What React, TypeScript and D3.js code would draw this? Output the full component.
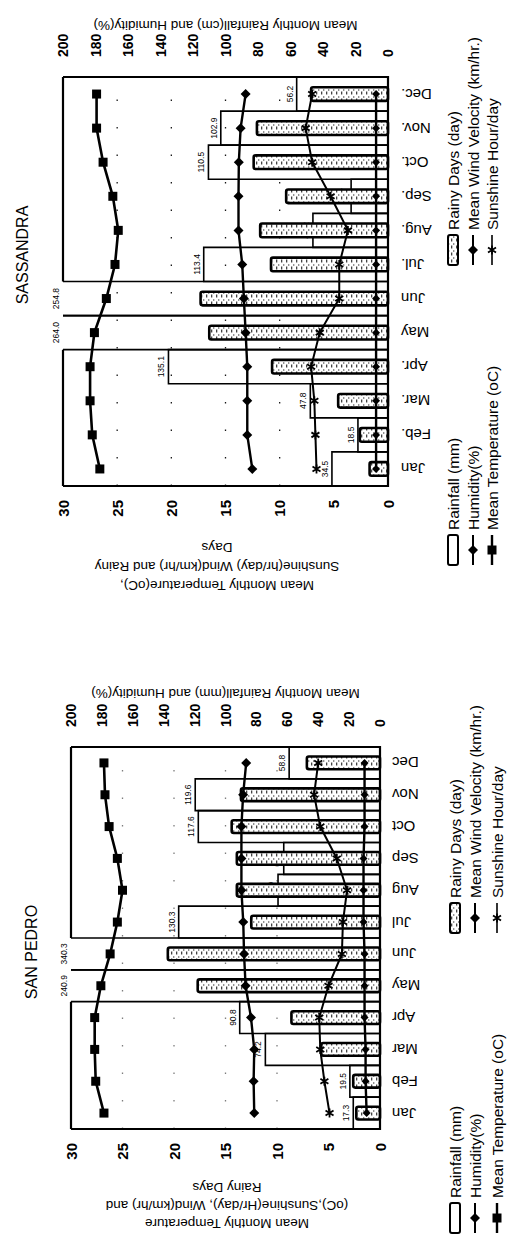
import React from 'react';
import * as d3 from 'd3';

// ---- SASSANDRA ----
const sassMonths = ['Jan', 'Feb.', 'Mar.', 'Apr.', 'May', 'Jun', 'Jul.', 'Aug.', 'Sep.', 'Oct.', 'Nov.', 'Dec.'];
const sassRain = [34.5, 18.5, 47.8, 135.1, 264.0, 254.8, 113.4, 46.2, 22.7, 110.5, 102.9, 56.2];
const sassDays = [1.7, 2.6, 4.6, 10.7, 16.5, 17.3, 10.8, 11.8, 9.4, 12.4, 12.1, 7.1];
const sassTemp = [26.6, 27.3, 27.5, 27.5, 27.1, 26.0, 25.2, 24.9, 25.4, 26.3, 26.9, 26.9];
const sassHum = [83.5, 86.6, 86.6, 86.6, 87.6, 88.7, 89.7, 92.0, 92.0, 91.8, 90.7, 87.6];
const sassWind = [1.1, 1.1, 1.1, 1.1, 1.1, 1.1, 1.1, 1.1, 1.1, 1.1, 1.1, 1.1];
const sassSun = [6.6, 6.7, 6.8, 7.1, 6.3, 4.5, 4.5, 3.7, 5.3, 7.0, 7.6, 7.0];
const sassLeftTitle = ['Mean Monthly Temperature(oC),', 'Sunshine(hr/day) Wind(km/hr) and Rainy', 'Days'];
const sassRightTitle = 'Mean Monthly Rainfall(cm) and Humidity(%)';

// ---- SAN PEDRO ----
const sanMonths = ['Jan', 'Feb', 'Mar', 'Apr', 'May', 'Jun', 'Jul', 'Aug', 'Sep', 'Oct', 'Nov', 'Dec'];
const sanRain = [17.3, 19.5, 74.2, 90.8, 240.9, 340.3, 130.3, 66.0, 62.3, 117.6, 119.6, 58.8];
const sanDays = [2.3, 2.6, 5.7, 8.6, 17.7, 20.6, 12.5, 13.9, 13.9, 14.4, 13.5, 7.1];
const sanTemp = [26.8, 27.6, 27.7, 27.7, 27.1, 26.2, 25.5, 25.0, 25.5, 26.3, 26.7, 26.8];
const sanHum = [81.4, 81.8, 81.4, 83.5, 87.0, 88.0, 88.5, 89.7, 89.7, 89.7, 88.6, 86.6];
const sanWind = [1.3, 1.4, 1.4, 1.5, 1.5, 1.5, 1.6, 1.6, 1.6, 1.5, 1.5, 1.5];
const sanSun = [4.9, 5.4, 5.8, 5.9, 5.0, 3.7, 3.6, 3.2, 4.2, 5.8, 6.4, 6.0];
const sanLeftTitle = ['Mean Monthly Temperature', '(oC),Sunshine(Hr/day), Wind(km/hr) and', 'Rainy Days'];
const sanRightTitle = 'Mean Monthly Rainfall(mm) and Humidity(%)';

const leftTicks = [0, 5, 10, 15, 20, 25, 30];
const rightTicks = [0, 20, 40, 60, 80, 100, 120, 140, 160, 180, 200];
const gridTicks = [10, 15, 20, 25];
const legendCol1 = ['Rainfall (mm)', 'Humidity(%)', 'Mean Temperature (oC)'];
const legendCol2 = ['Rainy Days (day)', 'Mean Wind Velocity (km/hr.)', 'Sunshine Hour/day'];

const FONT = '"Liberation Sans", Arial, Helvetica, sans-serif';

// layout of each chart (image coords of plot box, u = base - y after rotation)
const charts = [
  {
    id: 'sass', title: 'SASSANDRA', titleU: 365, titleV: 28, base: 620,
    box: {x0: 63, x1: 388, y0: 77, y1: 486},
    months: sassMonths, rain: sassRain, days: sassDays, temp: sassTemp, hum: sassHum, wind: sassWind, sun: sassSun,
    leftTitle: sassLeftTitle, leftTitleU: [39, 58, 77], leftTitleV: 217,
    rightTitle: sassRightTitle, rightTitleU: 599, monthV: 401,
    legendU: [55, 355], legendV: [453, 473, 492], gridOpacity: 0.9,
  },
  {
    id: 'san', title: 'SAN PEDRO', titleU: 290, titleV: 37, base: 1242,
    box: {x0: 71, x1: 380, y0: 747, y1: 1129},
    months: sanMonths, rain: sanRain, days: sanDays, temp: sanTemp, hum: sanHum, wind: sanWind, sun: sanSun,
    leftTitle: sanLeftTitle, leftTitleU: [23, 41, 59], leftTitleV: 227,
    rightTitle: sanRightTitle, rightTitleU: 553, monthV: 392,
    legendU: [9, 309], legendV: [455, 475, 497], gridOpacity: 0.5,
  },
];

function Marker({type, u, v}: {type: string, u: number, v: number}) {
  if (type === 'square') return <rect x={u - 4.5} y={v - 4.5} width={9} height={9} fill="#000"/>;
  if (type === 'diamond') return <path d={`M${u},${v - 5}L${u + 5},${v}L${u},${v + 5}L${u - 5},${v}Z`} fill="#000"/>;
  if (type === 'smalldiamond') return <path d={`M${u},${v - 4}L${u + 4},${v}L${u},${v + 4}L${u - 4},${v}Z`} fill="#000"/>;
  // star
  return <path d={`M${u - 4.5},${v}H${u + 4.5}M${u - 2.5},${v - 4}L${u + 2.5},${v + 4}M${u + 2.5},${v - 4}L${u - 2.5},${v + 4}`}
    stroke="#000" strokeWidth={1.8}/>;
}

function Chart({c}: {c: any}) {
  const uL = c.base - c.box.y1, uR = c.base - c.box.y0;
  const vTop = c.box.x0, vBot = c.box.x1;
  const x = d3.scaleBand().domain(c.months).range([uL, uR]);
  const yL = d3.scaleLinear().domain([0, 30]).range([vBot, vTop]);
  const yR = d3.scaleLinear().domain([0, 200]).range([vBot, vTop]);
  const bw = x.bandwidth();
  const cx = (m: string) => (x(m) as number) + bw / 2;

  const lineL = (vals: number[]) => d3.line<number>().x((d, i) => cx(c.months[i])).y(d => yL(d))(vals) as string;
  const lineR = (vals: number[]) => d3.line<number>().x((d, i) => cx(c.months[i])).y(d => yR(d))(vals) as string;

  // rainfall outline, top edge left open where the value is off the scale
  const rainPaths = c.rain.map((r: number, i: number) => {
    const u0 = x(c.months[i]) as number, u1 = u0 + bw;
    if (r > 200) return `M${u0},${vBot}V${vTop}M${u1},${vBot}V${vTop}`;
    const t = yR(r);
    return `M${u0},${vBot}V${t}H${u1}V${vBot}`;
  });
  // frame top, skipping months above 200
  const topSegs: string[] = [];
  c.rain.forEach((r: number, i: number) => {
    if (r <= 200) {
      const u0 = x(c.months[i]) as number;
      topSegs.push(`M${u0},${vTop}H${u0 + bw}`);
    }
  });

  const dw = bw * 0.4;
  const pat = `speck-${c.id}`;
  const [lc1, lc2] = c.legendU;
  const symLen = 30;

  return (
    <g transform={`translate(0,${c.base}) rotate(-90)`} fontFamily={FONT} fill="#000">
      <defs>
        <pattern id={pat} width={7} height={5} patternUnits="userSpaceOnUse">
          <rect width={7} height={5} fill="#fff"/>
          <rect x={0.5} y={1} width={3} height={1.3} fill="#444"/>
          <rect x={4} y={3.2} width={2} height={1.1} fill="#777"/>
        </pattern>
      </defs>

      <text x={c.titleU} y={c.titleV} textAnchor="middle" fontSize={16}>{c.title}</text>

      {/* dotted grid */}
      {gridTicks.map(t => (
        <line key={t} x1={uL} x2={uR} y1={yL(t)} y2={yL(t)} stroke="#000" strokeWidth={1.3}
          strokeDasharray="1.5 26" opacity={c.gridOpacity}/>
      ))}

      {/* rainfall */}
      {rainPaths.map((d: string, i: number) => (
        <path key={i} d={d} fill="none" stroke="#000" strokeWidth={1.6}/>
      ))}
      {c.rain.map((r: number, i: number) => (
        <text key={i} x={cx(c.months[i])} y={Math.min(yR(Math.min(r, 200)), vBot) - 4} textAnchor="middle"
          fontSize={8.5}>{r.toFixed(1)}</text>
      ))}

      {/* rainy days */}
      {c.days.map((d: number, i: number) => (
        <rect key={i} x={cx(c.months[i]) - dw / 2} y={yL(d)} width={dw} height={vBot - yL(d)} rx={2}
          fill={`url(#${pat})`} stroke="#000" strokeWidth={2.6}/>
      ))}

      {/* lines */}
      <path d={lineL(c.wind)} fill="none" stroke="#000" strokeWidth={2.4}/>
      {c.wind.map((d: number, i: number) => <Marker key={i} type="smalldiamond" u={cx(c.months[i])} v={yL(d)}/>)}
      <path d={lineL(c.sun)} fill="none" stroke="#000" strokeWidth={2}/>
      {c.sun.map((d: number, i: number) => <Marker key={i} type="star" u={cx(c.months[i])} v={yL(d)}/>)}
      <path d={lineR(c.hum)} fill="none" stroke="#000" strokeWidth={2.4}/>
      {c.hum.map((d: number, i: number) => <Marker key={i} type="diamond" u={cx(c.months[i])} v={yR(d)}/>)}
      <path d={lineL(c.temp)} fill="none" stroke="#000" strokeWidth={2.6}/>
      {c.temp.map((d: number, i: number) => <Marker key={i} type="square" u={cx(c.months[i])} v={yL(d)}/>)}

      {/* frame */}
      <path d={`M${uL},${vTop}V${vBot}H${uR}V${vTop}`} fill="none" stroke="#000" strokeWidth={2.2}/>
      <path d={topSegs.join('')} fill="none" stroke="#000" strokeWidth={2.2}/>

      {/* left axis */}
      {leftTicks.map(t => (
        <text key={t} x={uL - 14} y={yL(t)} textAnchor="end" dominantBaseline="central" fontSize={15}
          fontWeight="bold">{t}</text>
      ))}
      {c.leftTitle.map((s: string, i: number) => (
        <text key={i} transform={`translate(${c.leftTitleU[i]},${c.leftTitleV}) rotate(-90)`} textAnchor="middle"
          fontSize={13.5}>{s}</text>
      ))}

      {/* right axis */}
      {rightTicks.map(t => (
        <text key={t} x={uR + 20} y={yR(t)} textAnchor="start" dominantBaseline="central" fontSize={14}
          fontWeight="bold">{t}</text>
      ))}
      <text transform={`translate(${c.rightTitleU},${(vTop + vBot) / 2}) rotate(-90)`} textAnchor="middle"
        fontSize={13.5}>{c.rightTitle}</text>

      {/* months, vertical in the chart's own frame */}
      {c.months.map((m: string) => (
        <text key={m} transform={`translate(${cx(m)},${c.monthV}) rotate(-90)`} textAnchor="end"
          dominantBaseline="central" fontSize={15}>{m}</text>
      ))}

      {/* legend */}
      <g>
        <rect x={lc1} y={c.legendV[0] - 5} width={symLen} height={10} rx={2} fill="#fff" stroke="#000" strokeWidth={2}/>
        <line x1={lc1} x2={lc1 + symLen} y1={c.legendV[1]} y2={c.legendV[1]} stroke="#000" strokeWidth={2}/>
        <Marker type="diamond" u={lc1 + symLen / 2} v={c.legendV[1]}/>
        <line x1={lc1} x2={lc1 + symLen} y1={c.legendV[2]} y2={c.legendV[2]} stroke="#000" strokeWidth={2.4}/>
        <Marker type="square" u={lc1 + symLen / 2} v={c.legendV[2]}/>
        {legendCol1.map((s, i) => (
          <text key={s} x={lc1 + symLen + 5} y={c.legendV[i]} dominantBaseline="central" fontSize={15.5}>{s}</text>
        ))}

        <rect x={lc2} y={c.legendV[0] - 5} width={symLen} height={10} rx={2} fill={`url(#${pat})`} stroke="#000" strokeWidth={2}/>
        <line x1={lc2} x2={lc2 + symLen} y1={c.legendV[1]} y2={c.legendV[1]} stroke="#000" strokeWidth={2}/>
        <Marker type="diamond" u={lc2 + symLen / 2} v={c.legendV[1]}/>
        <line x1={lc2} x2={lc2 + symLen} y1={c.legendV[2]} y2={c.legendV[2]} stroke="#000" strokeWidth={1.6}/>
        <Marker type="star" u={lc2 + symLen / 2} v={c.legendV[2]}/>
        {legendCol2.map((s, i) => (
          <text key={s} x={lc2 + symLen + 5} y={c.legendV[i]} dominantBaseline="central" fontSize={15.5}>{s}</text>
        ))}
      </g>
    </g>
  );
}

export default function App() {
  return (
    <svg width={508} height={1242} style={{position: 'absolute', left: 0, top: 0, background: '#fff', display: 'block'}}>
      <rect width={508} height={1242} fill="#fff"/>
      {charts.map(c => <Chart key={c.id} c={c}/>)}
    </svg>
  );
}
